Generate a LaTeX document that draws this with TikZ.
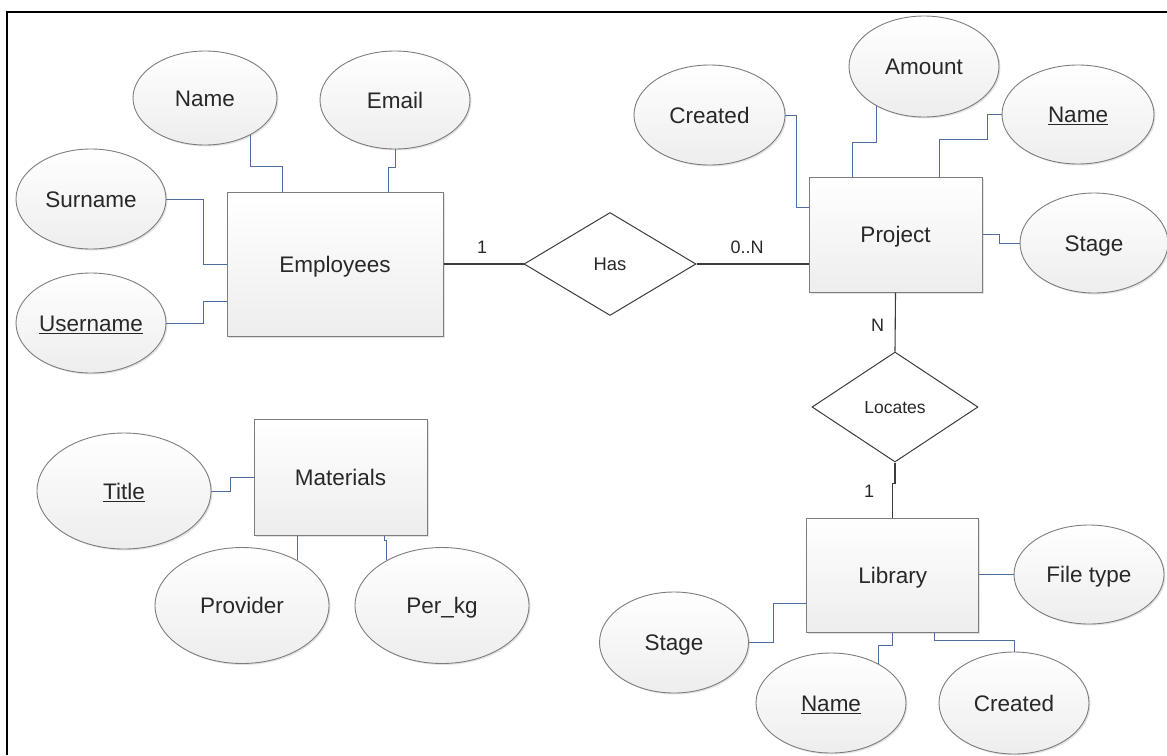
\documentclass[tikz,border=0pt]{standalone}
\usepackage{fontspec}
\setmainfont{Liberation Sans}
\usetikzlibrary{shapes.geometric,shadows}
\definecolor{attrline}{RGB}{79,110,160}
\definecolor{shapeborder}{RGB}{125,125,125}
\definecolor{relborder}{RGB}{60,60,60}
\definecolor{txt}{RGB}{40,40,40}
\begin{document}
\begin{tikzpicture}[x=1pt,y=-1pt,
  shd/.style={drop shadow={opacity=0.22,shadow xshift=1.5pt,shadow yshift=-1.5pt}},
  attr/.style={ellipse,draw=shapeborder,line width=0.9pt,top color=white,bottom color=black!7,
    inner sep=0pt,text=txt,font=\fontsize{22.5}{27}\selectfont,text height=16.2pt,text depth=0pt,shd},
  ent/.style={rectangle,draw=shapeborder,line width=1pt,top color=white,bottom color=black!7,
    inner sep=0pt,text=txt,font=\fontsize{22.5}{27}\selectfont,text height=16.2pt,text depth=0pt,shd},
  rel/.style={diamond,draw=relborder,line width=1pt,fill=white,inner sep=0pt,text=txt,
    text height=13pt,text depth=0pt},
  lbl/.style={text=txt,font=\fontsize{18}{21}\selectfont,inner sep=0pt},
  aline/.style={draw=attrline,line width=1pt},
  rline/.style={draw=relborder,line width=1.1pt}
]
\useasboundingbox (0,0) rectangle (1167,755);
\draw[line width=1.6pt,black] (7,755) -- (7,12) -- (1167,12);

% Employees
\node[ent,minimum width=216pt,minimum height=144pt] (emp) at (335,264) {Employees};
\node[attr,minimum width=144pt,minimum height=94pt] (ename) at (205,98) {Name};
\node[attr,minimum width=150pt,minimum height=98pt] (email) at (395,100) {Email};
\node[attr,minimum width=150pt,minimum height=100pt] (sname) at (91,199) {Surname};
\node[attr,minimum width=150pt,minimum height=100pt] (uname) at (91,323) {\underline{Username}};

\draw[aline] (ename.-39) -- ++(0,32) -| ([xshift=-53pt]emp.north);
\draw[aline] (email.south) -- ++(0,18) -| ([xshift=53pt]emp.north);
\draw[aline] (sname.east) -- ++(37,0) |- (emp.west);
\draw[aline] (uname.east) -- ++(37,0) |- ([yshift=-37pt]emp.west);

% Has
\node[rel,minimum width=172pt,minimum height=103pt,font=\fontsize{18.4}{22}\selectfont] (has) at (610,264) {Has};

% Project
\node[ent,minimum width=173pt,minimum height=115pt] (proj) at (895.5,234.5) {Project};
\node[attr,minimum width=151pt,minimum height=100pt] (pcreated) at (709.5,115) {Created};
\node[attr,minimum width=150pt,minimum height=101pt] (amount) at (924,66.5) {Amount};
\node[attr,minimum width=152pt,minimum height=99pt] (pname) at (1078,114.5) {\underline{Name}};
\node[attr,minimum width=148pt,minimum height=100pt] (pstage) at (1094,243) {Stage};

\draw[aline] (pcreated.east) -- ++(11,0) |- ([yshift=27.5pt]proj.west);
\draw[aline] (amount.-140) -- ++(0,36) -| ([xshift=-43.5pt]proj.north);
\draw[aline] (pname.west) -- ++(-14,0) -- ++(0,24.5) -| ([xshift=43.5pt]proj.north);
\draw[aline] (pstage.west) -- ++(-20,0) |- (proj.east);

\draw[rline] (emp.east) -- (has.west);
\draw[rline] (has.east) -- (has.east -| proj.west);
\node[lbl] (c1) at (482,247) {1};
\node[lbl] (c2) at (747,247) {0..N};

% Locates
\node[rel,minimum width=166pt,minimum height=110pt,font=\fontsize{17.5}{21}\selectfont] (loc) at (895,407) {Locates};
\node[ent,minimum width=172.5pt,minimum height=114pt] (lib) at (892.7,575) {Library};
\draw[rline] (proj.south) -- (loc.north);
\draw[rline] (loc.south) -- ++(0,21) -| (lib.north);
\node[lbl] (c3) at (877.6,325) {N};
\node[lbl] (c4) at (869,491) {1};

\node[attr,minimum width=150pt,minimum height=99pt] (ftype) at (1089,574.5) {File type};
\node[attr,minimum width=149pt,minimum height=101pt] (lstage) at (674,642.5) {Stage};
\node[attr,minimum width=150pt,minimum height=100pt] (lname) at (831,703) {\underline{Name}};
\node[attr,minimum width=150pt,minimum height=102pt] (lcreated) at (1014,703) {Created};

\draw[aline] (ftype.west) -- (ftype.west -| lib.east);
\draw[aline] (lstage.east) -- ++(25,0) |- ([yshift=-28pt]lib.west);
\draw[aline] (lname.40) -- ++(0,-18) -| (lib.south);
\draw[aline] (lcreated.north) -- ++(0,-11) -| ([xshift=41.8pt]lib.south);

% Materials
\node[ent,minimum width=173pt,minimum height=116pt] (mat) at (340.5,477) {Materials};
\node[attr,minimum width=174pt,minimum height=116pt] (title) at (124,491) {\underline{Title}};
\node[attr,minimum width=174pt,minimum height=116pt] (prov) at (242,605.5) {Provider};
\node[attr,minimum width=174pt,minimum height=116pt] (perkg) at (442,605.5) {Per\_kg};

\draw[aline] (title.east) -- ++(19,0) |- (mat.west);
\draw[aline] (prov.39) -- (prov.39 |- mat.south);
\draw[aline] (perkg.141) -- ++(0,-20) -| ([xshift=43.5pt]mat.south);
\end{tikzpicture}
\end{document}
